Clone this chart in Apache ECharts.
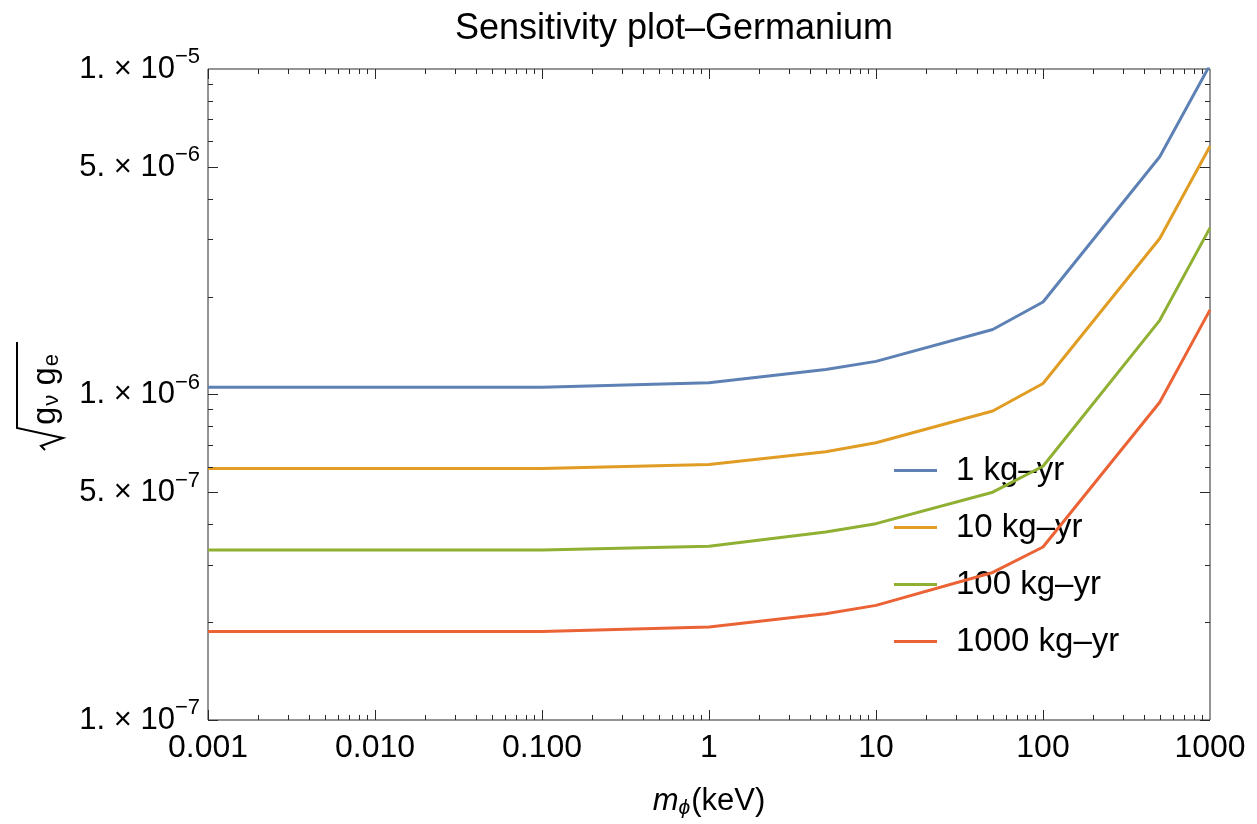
<!DOCTYPE html>
<html>
<head>
<meta charset="utf-8">
<script src="https://cdn.jsdelivr.net/npm/echarts@6/dist/echarts.min.js"></script>
<style>
  html, body { margin: 0; padding: 0; background: #ffffff; }
  #chart { width: 1257px; height: 824px; }
</style>
</head>
<body>
<div id="chart"></div>
<script>
// Scalar mediator mass (keV)
const massKeV = [0.001, 0.1, 1, 5, 10, 50, 100, 500, 1000];

// Projected sensitivity on sqrt(g_nu g_e) for each exposure
const seriesNames = ['1 kg\u2013yr', '10 kg\u2013yr', '100 kg\u2013yr', '1000 kg\u2013yr'];
const exposure1 = [1.053e-6, 1.053e-6, 1.086e-6, 1.194e-6, 1.264e-6, 1.584e-6, 1.924e-6, 5.373e-6, 1.03e-5];
const exposure10 = [5.92e-7, 5.92e-7, 6.09e-7, 6.67e-7, 7.11e-7, 8.90e-7, 1.081e-6, 3.015e-6, 5.79e-6];
const exposure100 = [3.33e-7, 3.33e-7, 3.42e-7, 3.78e-7, 4.01e-7, 5.01e-7, 6.02e-7, 1.69e-6, 3.25e-6];
const exposure1000 = [1.87e-7, 1.87e-7, 1.93e-7, 2.12e-7, 2.25e-7, 2.84e-7, 3.40e-7, 9.47e-7, 1.82e-6];

// Axis ranges, tick labels and tick positions
const xRange = [0.001, 1000];
const yRange = [1e-7, 1e-5];
const xTickLabels = ['0.001', '0.010', '0.100', '1', '10', '100', '1000'];
const xDecades = [0.001, 0.01, 0.1, 1, 10, 100];
const yDecades = [1e-7, 1e-6];
const minorSteps = [1, 2, 3, 4, 5, 6, 7, 8, 9];
const yExtraLabels = [5e-7, 5e-6];

const palette = ['#5e81b5', '#e19c24', '#8fb032', '#eb6235'];
const FONT = "'Liberation Sans', Arial, sans-serif";
const frameColor = '#2a2a2a';

const allSeries = [exposure1, exposure10, exposure100, exposure1000];

const sciRich = {
  m: { fontSize: 31, fontFamily: FONT, color: '#000' },
  s: { fontSize: 22, fontFamily: FONT, color: '#000', padding: [0, 0, 24, 0] }
};
function sciLabel(v) {
  const e = Math.floor(Math.log10(v) + 1e-9);
  const mant = Math.round(v / Math.pow(10, e));
  return '{m|' + mant + '. \u00d7 10}{s|\u2212' + (-e) + '}';
}

const chart = echarts.init(document.getElementById('chart'), null, { renderer: 'canvas' });

const lineSeries = allSeries.map((vals, i) => ({
  name: seriesNames[i],
  type: 'line',
  data: massKeV.map((x, j) => [x, vals[j]]),
  symbol: 'none',
  showSymbol: false,
  clip: true,
  lineStyle: { width: 3, color: palette[i] },
  itemStyle: { color: palette[i] },
  z: 3 + i
}));

// Frame ticks on all four sides plus the intermediate y labels
const frameSeries = {
  type: 'custom',
  silent: true,
  clip: false,
  z: 10,
  data: [[1, 1e-6]],
  renderItem: function (params, api) {
    const cs = params.coordSys;
    const left = cs.x, right = cs.x + cs.width, top = cs.y, bottom = cs.y + cs.height;
    const children = [];
    const tick = (x1, y1, x2, y2) => children.push({
      type: 'line',
      shape: { x1: x1, y1: y1, x2: x2, y2: y2 },
      style: { stroke: frameColor, lineWidth: 1 }
    });
    xDecades.forEach(d => {
      minorSteps.forEach(m => {
        const v = d * m;
        const px = Math.round(api.coord([v, yRange[0]])[0]) + 0.5;
        const len = m === 1 ? 10 : 5;
        tick(px, bottom, px, bottom - len);
        tick(px, top, px, top + len);
      });
    });
    yDecades.forEach(d => {
      minorSteps.forEach(m => {
        const v = d * m;
        const py = Math.round(api.coord([xRange[0], v])[1]) + 0.5;
        const len = (m === 1 || m === 5) ? 10 : 5;
        tick(left, py, left + len, py);
        tick(right, py, right - len, py);
      });
    });
    yExtraLabels.forEach(v => {
      const py = api.coord([xRange[0], v])[1];
      children.push({
        type: 'text',
        x: left - 8,
        y: py,
        style: {
          text: sciLabel(v),
          rich: sciRich,
          align: 'right',
          verticalAlign: 'middle',
          fill: '#000'
        }
      });
    });
    return { type: 'group', children: children };
  }
};

const option = {
  backgroundColor: '#ffffff',
  animation: false,
  title: {
    text: 'Sensitivity plot\u2013Germanium',
    left: 669,
    top: 6,
    textAlign: 'center',
    textStyle: { fontSize: 36, fontWeight: 'normal', fontFamily: FONT, color: '#000' }
  },
  grid: {
    left: 208, right: 47, top: 69, bottom: 104,
    show: true, borderColor: frameColor, borderWidth: 1, backgroundColor: 'transparent'
  },
  legend: {
    data: seriesNames,
    orient: 'vertical',
    left: 894,
    top: 454,
    padding: 0,
    icon: 'rect',
    itemWidth: 43,
    itemHeight: 3,
    itemGap: 24,
    textStyle: { fontSize: 33, fontFamily: FONT, color: '#000', lineHeight: 33, padding: [0, 0, 0, 14] }
  },
  xAxis: {
    type: 'log',
    logBase: 10,
    min: xRange[0],
    max: xRange[1],
    axisLine: { show: false },
    axisTick: { show: false },
    splitLine: { show: false },
    axisLabel: {
      margin: 12,
      fontSize: 32,
      fontFamily: FONT,
      color: '#000',
      formatter: function (v) {
        const idx = Math.round(Math.log10(v)) + 3;
        return xTickLabels[idx] !== undefined ? xTickLabels[idx] : '';
      }
    },
    name: '{i|m}{sub|\u03d5}{n|(keV)}',
    nameLocation: 'middle',
    nameGap: 64,
    nameTextStyle: {
      rich: {
        i: { fontSize: 31, fontStyle: 'italic', fontFamily: FONT, color: '#000' },
        sub: { fontSize: 21, fontStyle: 'italic', fontFamily: FONT, color: '#000', padding: [14, 1, 0, 0] },
        n: { fontSize: 31, fontFamily: FONT, color: '#000' }
      }
    }
  },
  yAxis: {
    type: 'log',
    logBase: 10,
    min: yRange[0],
    max: yRange[1],
    axisLine: { show: false },
    axisTick: { show: false },
    splitLine: { show: false },
    axisLabel: {
      margin: 8,
      formatter: sciLabel,
      rich: sciRich
    }
  },
  graphic: [{
    type: 'group',
    x: 50,
    y: 394,
    rotation: Math.PI / 2,
    children: [
      {
        type: 'polyline',
        shape: { points: [[-56, -5], [-52, -9], [-44, 13], [-34, -33], [52, -33]] },
        style: { stroke: '#000', lineWidth: 2, fill: null }
      },
      {
        type: 'text',
        x: -31,
        y: -4,
        style: {
          text: '{g|g}{s|\u03bd}{g| g}{s|e}',
          align: 'left',
          verticalAlign: 'middle',
          fill: '#000',
          rich: {
            g: { fontSize: 33, fontFamily: FONT, color: '#000' },
            s: { fontSize: 22, fontFamily: FONT, color: '#000', padding: [12, 0, 0, 1] }
          }
        }
      }
    ]
  }],
  series: lineSeries.concat([frameSeries])
};

chart.setOption(option);
</script>
</body>
</html>
